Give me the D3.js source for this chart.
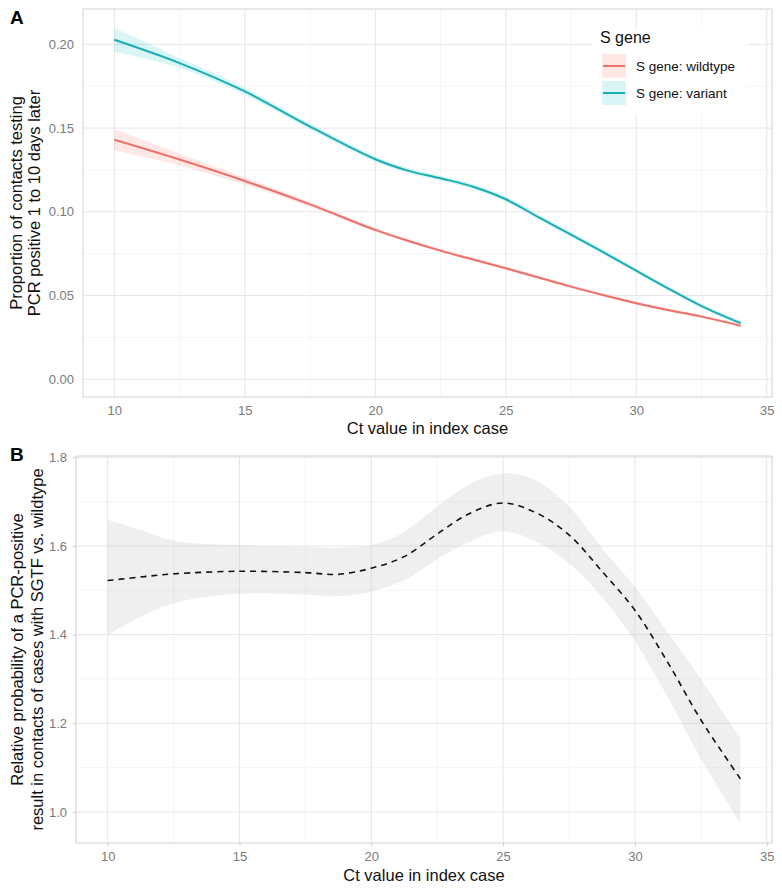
<!DOCTYPE html>
<html><head><meta charset="utf-8">
<script src="https://cdn.jsdelivr.net/npm/d3@7"></script>
<style>
html,body{margin:0;padding:0;background:#fff;}
svg{display:block;font-family:"Liberation Sans",Arial,Helvetica,sans-serif;}
</style></head>
<body><svg id="chart" width="782" height="893"></svg>
<script>
// ---------- Panel A data ----------
const ctA = [10, 12.5, 15, 17.5, 20, 21.25, 22.5, 23.75, 25, 26.25, 27.5, 28.75, 30, 31.25, 32.5, 34];
const variantFit = [0.2027, 0.1888, 0.1719, 0.1509, 0.1314, 0.1246, 0.1200, 0.1150, 0.1075, 0.0968, 0.0864, 0.0757, 0.0648, 0.0540, 0.0437, 0.0335];
const variantLo  = [0.1955, 0.1858, 0.1697, 0.1491, 0.1298, 0.1231, 0.1185, 0.1135, 0.1059, 0.0952, 0.0848, 0.0742, 0.0634, 0.0527, 0.0425, 0.0320];
const variantHi  = [0.2097, 0.1918, 0.1741, 0.1527, 0.1330, 0.1261, 0.1215, 0.1165, 0.1091, 0.0984, 0.0880, 0.0772, 0.0662, 0.0553, 0.0449, 0.0350];
const wildFit = [0.1430, 0.1312, 0.1184, 0.1044, 0.0892, 0.0827, 0.0768, 0.0715, 0.0663, 0.0608, 0.0553, 0.0502, 0.0454, 0.0412, 0.0374, 0.0320];
const wildLo  = [0.1366, 0.1277, 0.1162, 0.1029, 0.0881, 0.0817, 0.0758, 0.0705, 0.0653, 0.0598, 0.0543, 0.0492, 0.0444, 0.0402, 0.0364, 0.0309];
const wildHi  = [0.1494, 0.1347, 0.1206, 0.1059, 0.0903, 0.0837, 0.0778, 0.0725, 0.0673, 0.0618, 0.0563, 0.0512, 0.0464, 0.0422, 0.0384, 0.0331];
const seriesNames = ["S gene: wildtype", "S gene: variant"];
const seriesColors = ["#ec7168", "#19aeb6"];
const seriesFills = ["rgba(248,118,109,0.17)", "rgba(0,191,196,0.15)"];
const yTicksA = [0, 0.05, 0.10, 0.15, 0.20];
const yMinorA = [0.025, 0.075, 0.125, 0.175];

// ---------- Panel B data ----------
const ctB = [10, 11.25, 12.5, 15, 17.5, 18.75, 20, 21.25, 22.5, 23.75, 25, 26.25, 27.5, 28.75, 30, 31.25, 32.5, 34];
const rrFit = [1.522, 1.530, 1.537, 1.543, 1.540, 1.536, 1.550, 1.576, 1.627, 1.674, 1.697, 1.675, 1.625, 1.543, 1.455, 1.337, 1.208, 1.075];
const rrLo  = [1.400, 1.440, 1.471, 1.492, 1.490, 1.487, 1.497, 1.523, 1.570, 1.610, 1.633, 1.610, 1.561, 1.485, 1.385, 1.258, 1.120, 0.975];
const rrHi  = [1.659, 1.636, 1.612, 1.602, 1.598, 1.596, 1.602, 1.632, 1.689, 1.740, 1.764, 1.748, 1.689, 1.595, 1.508, 1.405, 1.300, 1.167];
const yTicksB = [1.0, 1.2, 1.4, 1.6, 1.8];
const yMinorB = [1.1, 1.3, 1.5, 1.7];

const xTicks = [10, 15, 20, 25, 30, 35];
const xMinor = [12.5, 17.5, 22.5, 27.5, 32.5];

const svg = d3.select("#chart");
const curve = d3.curveCatmullRom.alpha(0.5);

function panel(cfg) {
  const g = svg.append("g");
  const x = d3.scaleLinear().domain([8.8, 35.2]).range([cfg.left, cfg.right]);
  const y = d3.scaleLinear().domain(cfg.yDomain).range([cfg.bottom, cfg.top]);
  g.selectAll(".vmin").data(xMinor).join("line")
    .attr("x1", d => x(d)).attr("x2", d => x(d)).attr("y1", cfg.top).attr("y2", cfg.bottom)
    .attr("stroke", "#f2f2f2").attr("stroke-width", 0.8);
  g.selectAll(".hmin").data(cfg.yMinor).join("line")
    .attr("y1", d => y(d)).attr("y2", d => y(d)).attr("x1", cfg.left).attr("x2", cfg.right)
    .attr("stroke", "#f2f2f2").attr("stroke-width", 0.8);
  g.selectAll(".vmaj").data(xTicks).join("line")
    .attr("x1", d => x(d)).attr("x2", d => x(d)).attr("y1", cfg.top).attr("y2", cfg.bottom)
    .attr("stroke", "#e6e6e6").attr("stroke-width", 1);
  g.selectAll(".hmaj").data(cfg.yTicks).join("line")
    .attr("y1", d => y(d)).attr("y2", d => y(d)).attr("x1", cfg.left).attr("x2", cfg.right)
    .attr("stroke", "#e6e6e6").attr("stroke-width", 1);
  g.append("rect").attr("x", cfg.left).attr("y", cfg.top)
    .attr("width", cfg.right - cfg.left).attr("height", cfg.bottom - cfg.top)
    .attr("fill", "none").attr("stroke", "#d2d2d2").attr("stroke-width", 1);
  const xa = g.append("g").attr("transform", `translate(0,${cfg.bottom})`)
    .call(d3.axisBottom(x).tickValues(xTicks).tickSize(cfg.tick).tickPadding(cfg.xPad).tickFormat(d3.format("d")));
  const ya = g.append("g").attr("transform", `translate(${cfg.left},0)`)
    .call(d3.axisLeft(y).tickValues(cfg.yTicks).tickSize(cfg.tick).tickPadding(cfg.yPad).tickFormat(d3.format(cfg.yFmt)));
  [xa, ya].forEach(a => {
    a.select(".domain").remove();
    a.selectAll("line").attr("stroke", "#c8c8c8");
    a.selectAll("text").attr("fill", "#7a7a7a").style("font-size", "13px")
      .style("font-family", '"Liberation Sans",Arial,sans-serif');
  });
  g.append("text").attr("x", (cfg.left + cfg.right) / 2).attr("y", cfg.xTitleY)
    .attr("text-anchor", "middle").style("font-size", "16.5px").attr("fill", "#111")
    .text("Ct value in index case");
  const cy = (cfg.top + cfg.bottom) / 2;
  cfg.yTitle.forEach((t, i) => {
    g.append("text").attr("transform", `translate(${cfg.yTitleX[i]},${cy}) rotate(-90)`)
      .attr("text-anchor", "middle").style("font-size", "16.5px").attr("fill", "#111").text(t);
  });
  g.append("text").attr("x", 10).attr("y", cfg.letterY).style("font-size", "19px")
    .style("font-weight", "bold").attr("fill", "#000").text(cfg.letter);
  return {g, x, y};
}

// ---------- Panel A ----------
const A = panel({left: 83, right: 772, top: 9, bottom: 397, yDomain: [-0.0106, 0.2211],
  yTicks: yTicksA, yMinor: yMinorA, yFmt: ".2f", tick: 0, xPad: 9, yPad: 9,
  xTitleY: 434, yTitle: ["Proportion of contacts testing", "PCR positive 1 to 10 days later"],
  yTitleX: [22, 40], letter: "A", letterY: 24});

const bandsA = [
  {fit: wildFit, lo: wildLo, hi: wildHi},
  {fit: variantFit, lo: variantLo, hi: variantHi}
];
bandsA.forEach((s, i) => {
  const pts = ctA.map((c, k) => ({c, lo: s.lo[k], hi: s.hi[k]}));
  A.g.append("path").datum(pts)
    .attr("d", d3.area().x(d => A.x(d.c)).y0(d => A.y(d.lo)).y1(d => A.y(d.hi)).curve(curve))
    .attr("fill", seriesFills[i]);
});
bandsA.forEach((s, i) => {
  const pts = ctA.map((c, k) => ({c, f: s.fit[k]}));
  A.g.append("path").datum(pts)
    .attr("d", d3.line().x(d => A.x(d.c)).y(d => A.y(d.f)).curve(curve))
    .attr("fill", "none").attr("stroke", seriesColors[i]).attr("stroke-width", 2);
});

// legend
const lg = svg.append("g");
lg.append("rect").attr("x", 592).attr("y", 28).attr("width", 155).attr("height", 87).attr("fill", "#fff");
lg.append("text").attr("x", 600).attr("y", 43).style("font-size", "16px").attr("fill", "#111").text("S gene");
seriesNames.forEach((n, i) => {
  const ky = 54 + i * 27;
  lg.append("rect").attr("x", 602).attr("y", ky).attr("width", 24).attr("height", 24).attr("fill", seriesFills[i]);
  lg.append("line").attr("x1", 603).attr("x2", 625).attr("y1", ky + 12).attr("y2", ky + 12)
    .attr("stroke", seriesColors[i]).attr("stroke-width", 2);
  lg.append("text").attr("x", 636).attr("y", ky + 16.5).style("font-size", "13.5px").attr("fill", "#111").text(n);
});

// ---------- Panel B ----------
const B = panel({left: 76, right: 772, top: 456, bottom: 843, yDomain: [0.930, 1.803],
  yTicks: yTicksB, yMinor: yMinorB, yFmt: ".1f", tick: 3, xPad: 6, yPad: 6,
  xTitleY: 881, yTitle: ["Relative probability of a PCR-positive", "result in contacts of cases with SGTF vs. wildtype"],
  yTitleX: [23, 43], letter: "B", letterY: 461});

const ptsB = ctB.map((c, k) => ({c, f: rrFit[k], lo: rrLo[k], hi: rrHi[k]}));
B.g.append("path").datum(ptsB)
  .attr("d", d3.area().x(d => B.x(d.c)).y0(d => B.y(d.lo)).y1(d => B.y(d.hi)).curve(curve))
  .attr("fill", "rgba(205,205,205,0.32)");
B.g.append("path").datum(ptsB)
  .attr("d", d3.line().x(d => B.x(d.c)).y(d => B.y(d.f)).curve(curve))
  .attr("fill", "none").attr("stroke", "#111").attr("stroke-width", 1.6).attr("stroke-dasharray", "6,5");
</script></body></html>
